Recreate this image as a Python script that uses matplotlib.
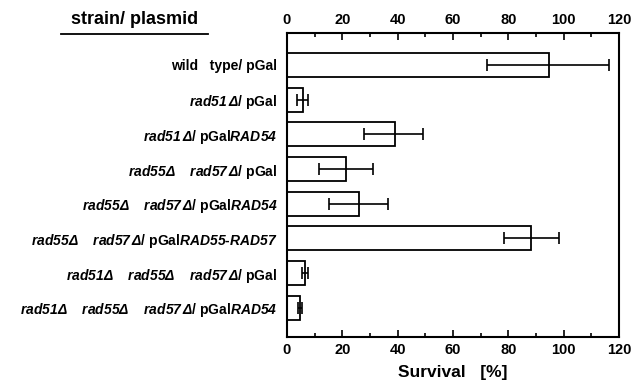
import matplotlib
matplotlib.use("Agg")
import matplotlib.pyplot as plt
from matplotlib.ticker import MultipleLocator
import numpy as np

plt.rcParams['font.family'] = ['Liberation Sans', 'DejaVu Sans']
plt.rcParams['font.weight'] = 'bold'
plt.rcParams['mathtext.fontset'] = 'custom'
plt.rcParams['mathtext.rm'] = 'Liberation Sans:italic:bold'
plt.rcParams['mathtext.it'] = 'Liberation Sans:italic:bold'
plt.rcParams['mathtext.bf'] = 'Liberation Sans:italic:bold'
plt.rcParams['mathtext.sf'] = 'Liberation Sans:italic:bold'

categories = [
    r"wild   type/ pGal",
    r"$\mathit{rad51\,Δ}$/ pGal",
    r"$\mathit{rad51\,Δ}$/ pGal$\mathit{RAD54}$",
    r"$\mathit{rad55Δ}$    $\mathit{rad57\,Δ}$/ pGal",
    r"$\mathit{rad55Δ}$    $\mathit{rad57\,Δ}$/ pGal$\mathit{RAD54}$",
    r"$\mathit{rad55Δ}$    $\mathit{rad57\,Δ}$/ pGal$\mathit{RAD55}$-$\mathit{RAD57}$",
    r"$\mathit{rad51Δ}$    $\mathit{rad55Δ}$    $\mathit{rad57\,Δ}$/ pGal",
    r"$\mathit{rad51Δ}$    $\mathit{rad55Δ}$    $\mathit{rad57\,Δ}$/ pGal$\mathit{RAD54}$",
]
survival = [94.6, 5.7, 38.9, 21.5, 26.1, 88.3, 6.4, 4.8]
err_low = [72.4, 3.8, 28.0, 11.5, 15.2, 78.6, 5.4, 4.0]
err_high = [116.5, 7.5, 49.2, 31.2, 36.6, 98.2, 7.6, 5.4]
xticks = [0, 20, 40, 60, 80, 100, 120]

fig = plt.figure(figsize=(6.43, 3.89), dpi=100)
ax = fig.add_axes([0.4463, 0.1337, 0.5164, 0.7815])

y = np.arange(len(categories))
vals = np.array(survival)
xerr = np.vstack([vals - np.array(err_low), np.array(err_high) - vals])
ax.barh(y, vals, height=0.69, color='white', edgecolor='black', linewidth=1.3, zorder=2)
ax.errorbar(vals, y, xerr=xerr, fmt='none', ecolor='black', elinewidth=1.2,
            capsize=4.5, capthick=1.2, zorder=3)

ax.set_xlim(0, 120)
ax.set_ylim(7.84, -0.92)
ax.set_xticks(xticks)
ax.set_xticklabels([str(t) for t in xticks])
ax.xaxis.set_minor_locator(MultipleLocator(10))
ax.tick_params(axis='x', which='both', direction='in', top=True, bottom=True,
               labeltop=True, labelbottom=True, labelsize=10.5, pad=4, width=1.2)
ax.tick_params(axis='x', which='major', length=5)
ax.tick_params(axis='x', which='minor', length=3)
ax.set_yticks(y)
ax.set_yticklabels(categories, fontsize=10, fontweight='bold')
ax.tick_params(axis='y', length=0, pad=7)
for s in ax.spines.values():
    s.set_linewidth(1.5)

ax.set_xlabel("Survival   [%]", fontsize=12.5, fontweight='bold', labelpad=6)

fig.text(134.5/643, 1 - 20/389, "strain/ plasmid", fontsize=13, fontweight='bold',
         ha='center', va='center')
fig.add_artist(plt.Line2D([60.7/643, 208/643], [1 - 33.5/389, 1 - 33.5/389],
                          color='black', linewidth=1.3, transform=fig.transFigure))

fig.savefig("out.png", dpi=100)
